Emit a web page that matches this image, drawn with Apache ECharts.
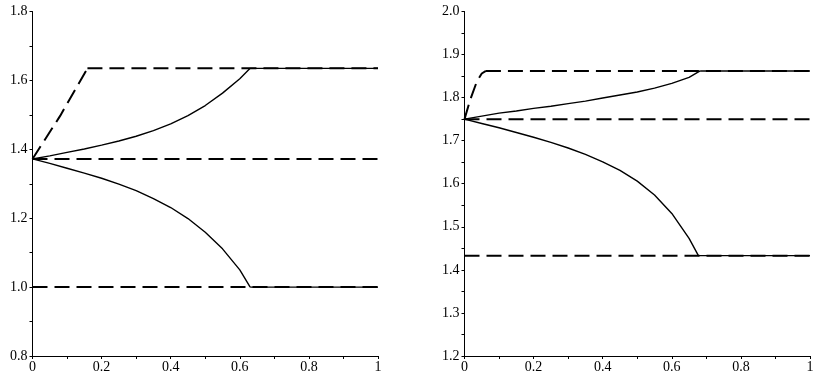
<!DOCTYPE html>
<html><head><meta charset="utf-8">
<script src="https://cdn.jsdelivr.net/npm/echarts@6/dist/echarts.min.js"></script>
<style>html,body{margin:0;padding:0;background:#fff}#c{width:821px;height:384px}</style>
</head><body><div id="c"></div>
<script>
// Left panel
const L_upperDashX = [0, 0.080, 0.159];
const L_upperDashY = [1.372, 1.497, 1.635];
const L_upperDashTailX = [0.159, 1];
const L_upperDashTailY = [1.635, 1.635];
const L_midDashX = [0, 1];
const L_midDashY = [1.372, 1.372];
const L_lowDashX = [0, 1];
const L_lowDashY = [1.0, 1.0];
const L_upperSolidX = [0, 0.05, 0.1, 0.15, 0.2, 0.25, 0.3, 0.35, 0.4, 0.45, 0.5, 0.55, 0.6, 0.63];
const L_upperSolidY = [1.372, 1.381, 1.391, 1.401, 1.412, 1.424, 1.438, 1.454, 1.474, 1.498, 1.527, 1.563, 1.605, 1.635];
const L_upperTailX = [0.63, 1];
const L_upperTailY = [1.635, 1.635];
const L_lowerSolidX = [0, 0.05, 0.1, 0.15, 0.2, 0.25, 0.3, 0.35, 0.4, 0.45, 0.5, 0.55, 0.6, 0.63];
const L_lowerSolidY = [1.372, 1.359, 1.345, 1.331, 1.316, 1.299, 1.280, 1.257, 1.231, 1.199, 1.159, 1.111, 1.050, 1.0];
const L_lowerTailX = [0.63, 1];
const L_lowerTailY = [1.0, 1.0];
// Right panel
const R_upperDashX = [0, 0.0165, 0.036, 0.050, 0.062];
const R_upperDashY = [1.75, 1.795, 1.838, 1.856, 1.862];
const R_upperDashTailX = [0.062, 1];
const R_upperDashTailY = [1.862, 1.862];
const R_midDashX = [0, 1];
const R_midDashY = [1.75, 1.75];
const R_lowDashX = [0, 1];
const R_lowDashY = [1.433, 1.433];
const R_upperSolidX = [0, 0.05, 0.1, 0.15, 0.2, 0.25, 0.3, 0.35, 0.4, 0.45, 0.5, 0.55, 0.6, 0.65, 0.682];
const R_upperSolidY = [1.75, 1.757, 1.764, 1.769, 1.775, 1.780, 1.786, 1.792, 1.799, 1.806, 1.813, 1.822, 1.833, 1.847, 1.862];
const R_upperTailX = [0.682, 1];
const R_upperTailY = [1.862, 1.862];
const R_lowerSolidX = [0, 0.05, 0.1, 0.15, 0.2, 0.25, 0.3, 0.35, 0.4, 0.45, 0.5, 0.55, 0.6, 0.65, 0.677];
const R_lowerSolidY = [1.75, 1.740, 1.730, 1.719, 1.708, 1.696, 1.683, 1.668, 1.651, 1.631, 1.606, 1.574, 1.531, 1.473, 1.433];
const R_lowerTailX = [0.677, 1];
const R_lowerTailY = [1.433, 1.433];

const xTicks = [0, 0.2, 0.4, 0.6, 0.8, 1];
const L_yRange = [0.8, 1.8];
const R_yRange = [1.2, 2.0];

function zip(xs, ys){ return xs.map((x,i)=>[x, ys[i]]); }
const font = {fontFamily:'Liberation Serif', fontSize:14, color:'#000'};
function xAxis(gi){
  return {type:'value', gridIndex:gi, min:xTicks[0], max:xTicks[xTicks.length-1], interval:0.2,
    axisLine:{onZero:false, lineStyle:{color:'#000', width:1}},
    axisTick:{show:true, length:3, lineStyle:{color:'#000'}},
    minorTick:{show:true, splitNumber:2, length:3, lineStyle:{color:'#000'}},
    splitLine:{show:false}, minorSplitLine:{show:false},
    axisLabel:Object.assign({margin:4, formatter:v=>String(+v.toFixed(1))}, font)};
}
function yAxis(gi, range, interval){
  return {type:'value', gridIndex:gi, min:range[0], max:range[1], interval:interval,
    axisLine:{show:true, onZero:false, lineStyle:{color:'#000', width:1}},
    axisTick:{show:true, length:3, lineStyle:{color:'#000'}},
    minorTick:{show:true, splitNumber:2, length:3, lineStyle:{color:'#000'}},
    splitLine:{show:false}, minorSplitLine:{show:false},
    axisLabel:Object.assign({margin:5, formatter:v=>v.toFixed(1)}, font)};
}
function line(gi, xs, ys, dashed){
  return {type:'line', xAxisIndex:gi, yAxisIndex:gi, data:zip(xs, ys), symbol:'none',
    smooth:false, silent:true, animation:false,
    lineStyle: dashed ? {color:'#000', width:2, type:[15,7]} : {color:'#000', width:1.4, type:'solid'}};
}
const chart = echarts.init(document.getElementById('c'), null, {renderer:'canvas'});
chart.setOption({
  animation:false,
  backgroundColor:'#fff',
  grid:[{left:32.5, right:443, top:11.5, bottom:28},
        {left:464.5, right:11, top:11.5, bottom:28}],
  xAxis:[xAxis(0), xAxis(1)],
  yAxis:[yAxis(0, L_yRange, 0.2), yAxis(1, R_yRange, 0.1)],
  series:[
    line(0, L_upperDashX, L_upperDashY, true),
    line(0, L_upperDashTailX, L_upperDashTailY, true),
    line(0, L_midDashX, L_midDashY, true),
    line(0, L_lowDashX, L_lowDashY, true),
    line(0, L_upperSolidX, L_upperSolidY, false),
    line(0, L_upperTailX, L_upperTailY, false),
    line(0, L_lowerSolidX, L_lowerSolidY, false),
    line(0, L_lowerTailX, L_lowerTailY, false),
    line(1, R_upperDashX, R_upperDashY, true),
    line(1, R_upperDashTailX, R_upperDashTailY, true),
    line(1, R_midDashX, R_midDashY, true),
    line(1, R_lowDashX, R_lowDashY, true),
    line(1, R_upperSolidX, R_upperSolidY, false),
    line(1, R_upperTailX, R_upperTailY, false),
    line(1, R_lowerSolidX, R_lowerSolidY, false),
    line(1, R_lowerTailX, R_lowerTailY, false)
  ]
});
</script></body></html>
